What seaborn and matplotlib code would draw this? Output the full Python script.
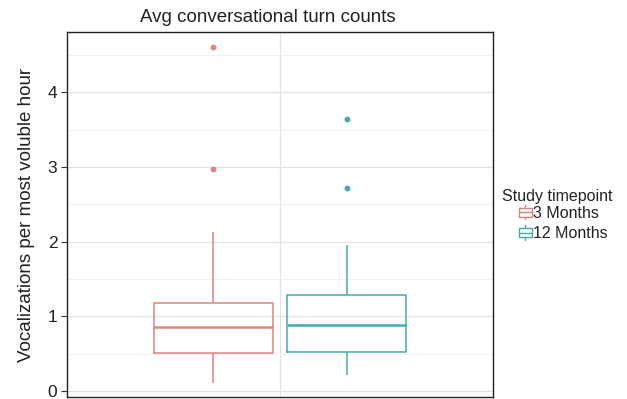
import numpy as np
import pandas as pd
import matplotlib
matplotlib.use("Agg")
import matplotlib.pyplot as plt
from matplotlib.ticker import MultipleLocator
from matplotlib.legend_handler import HandlerBase
from matplotlib.patches import Rectangle, Patch
from matplotlib.lines import Line2D
import seaborn as sns

# Box summaries per study timepoint (vocalizations per most voluble hour)
timepoints = ["3 Months", "12 Months"]
lower_whisker = [0.11, 0.21]
q1 = [0.51, 0.52]
median = [0.857, 0.88]
q3 = [1.18, 1.285]
upper_whisker = [2.13, 1.955]
outliers = [[2.97, 4.61], [2.72, 3.64]]

colors = ["#DA857F", "#45AAB0"]

# Build a sample per timepoint whose quartiles equal the summaries above
rows = []
for i, tp in enumerate(timepoints):
    vals = ([lower_whisker[i]] + [q1[i]] * 3 + [median[i]] * 3 + [q3[i]] * 3
            + [upper_whisker[i]] + outliers[i])
    for v in vals:
        rows.append({"group": "all", "Study timepoint": tp, "value": v})
df = pd.DataFrame(rows)


class BoxGlyph(HandlerBase):
    """Small boxplot-shaped legend key: box, median bar and whisker stubs."""

    def create_artists(self, legend, orig_handle, xdescent, ydescent,
                       width, height, fontsize, trans):
        c = orig_handle.get_edgecolor()
        x0, y0 = -xdescent, -ydescent
        bh = height * 0.62
        by = y0 + (height - bh) / 2
        rect = Rectangle((x0, by), width, bh, facecolor="none",
                         edgecolor=c, linewidth=1.0, transform=trans)
        mid = Line2D([x0, x0 + width], [by + bh / 2] * 2, color=c,
                     linewidth=1.0, transform=trans)
        top = Line2D([x0 + width / 2] * 2, [by + bh, y0 + height], color=c,
                     linewidth=1.0, transform=trans)
        bot = Line2D([x0 + width / 2] * 2, [y0, by], color=c,
                     linewidth=1.0, transform=trans)
        return [rect, mid, top, bot]


sns.set_theme(style="white")
plt.rcParams["font.family"] = ["Liberation Sans", "DejaVu Sans"]

fig = plt.figure(figsize=(6.27, 3.99), dpi=100)
ax = fig.add_axes([67 / 627, 2 / 399, (493 - 67) / 627, (397 - 32) / 399])

sns.boxplot(data=df, x="group", y="value", hue="Study timepoint",
            hue_order=timepoints, palette=colors, fill=False, width=0.75,
            gap=0.1, linewidth=1.1, whis=1.5, showcaps=False, ax=ax,
            flierprops=dict(marker="o", markersize=3.2),
            medianprops=dict(linewidth=1.8), legend=False)

# outlier markers filled in the group colour
for line in ax.lines:
    if line.get_marker() == "o":
        line.set_markerfacecolor(line.get_markeredgecolor())

ax.set_xlim(-0.6, 0.6)
ax.set_ylim(-0.08, 4.81)
ax.yaxis.set_major_locator(MultipleLocator(1))
ax.yaxis.set_minor_locator(MultipleLocator(0.5))
ax.set_xticks([0])
ax.set_xticklabels([])
ax.tick_params(axis="x", length=0)
ax.tick_params(axis="y", which="major", length=4, width=0.8, color="#333333",
               labelsize=12.5, labelcolor="#222222", pad=3, left=True)
ax.tick_params(axis="y", which="minor", length=0)

ax.grid(True, which="major", color="#E3E3E3", linewidth=0.9)
ax.grid(True, which="minor", axis="y", color="#F0F0F0", linewidth=0.7)
ax.set_axisbelow(True)
for s in ax.spines.values():
    s.set_color("#222222")
    s.set_linewidth(1.0)

ax.set_xlabel("")
ax.set_ylabel("Vocalizations per most voluble hour", fontsize=13.5,
              color="#222222", labelpad=9)
fig.text(268 / 627, 1 - 18 / 399, "Avg conversational turn counts",
         ha="center", va="center", fontsize=13.5, color="#222222")

# legend: title on its own line, keys indented beneath it
fig.text(502 / 627, 1 - 196 / 399, "Study timepoint", ha="left",
         va="center", fontsize=11.5, color="#222222")
handles = [Patch(edgecolor=c, facecolor="none") for c in colors]
leg = fig.legend(handles, timepoints, loc="upper left",
                 bbox_to_anchor=(519 / 627, 1 - 205 / 399),
                 frameon=False, fontsize=11.5,
                 handlelength=0.8, handleheight=1.0, handletextpad=0.05,
                 labelspacing=0.3, borderpad=0.0, borderaxespad=0.0,
                 handler_map={Patch: BoxGlyph()})
for t in leg.get_texts():
    t.set_color("#222222")

fig.savefig("out.png", dpi=100)
